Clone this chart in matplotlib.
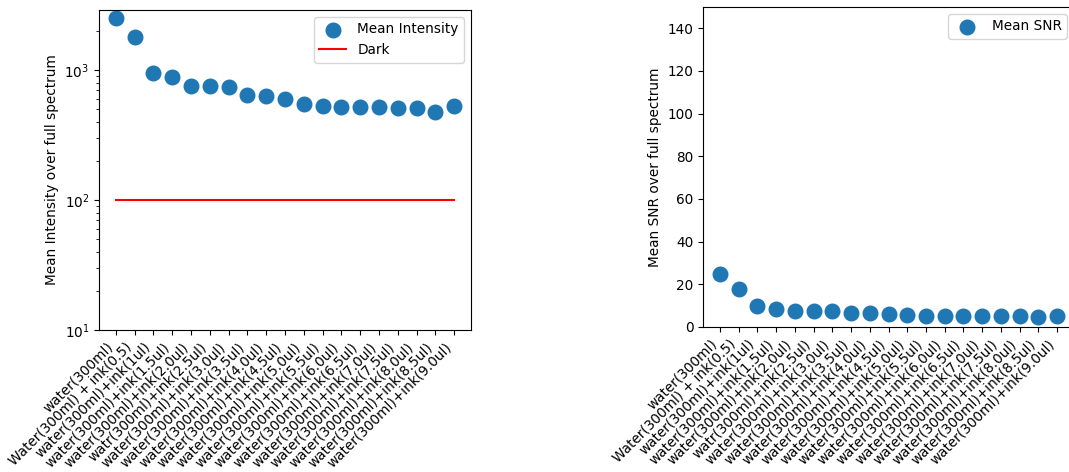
import numpy as np
import matplotlib
matplotlib.use("Agg")
import matplotlib.pyplot as plt

labels = [
    "water(300ml)",
    "Water(300ml) + ink(0.5)",
    "water(300ml)+ink(1ul)",
    "water(300ml)+ink(1.5ul)",
    "water(300ml)+ink(2.0ul)",
    "watr(300ml)+ink(2.5ul)",
    "water(300ml)+ink(3.0ul)",
    "water(300ml)+ink(3.5ul)",
    "water(300ml)+ink(4.0ul)",
    "water(300ml)+ink(4.5ul)",
    "water(300ml)+ink(5.0ul)",
    "water(300ml)+ink(5.5ul)",
    "water(300ml)+ink(6.0ul)",
    "water(300ml)+ink(6.5ul)",
    "water(300ml)+ink(7.0ul)",
    "water(300ml)+ink(7.5ul)",
    "water(300ml)+ink(8.0ul)",
    "water(300ml)+ink(8.5ul)",
    "water(300ml)+ink(9.0ul)",
]

mean_intensity = [2500, 1785, 943, 879, 753, 753, 740, 642, 631, 601,
                  548, 529, 522, 516, 516, 510, 510, 478, 529]
dark_level = 100

mean_snr = [24.7, 17.7, 9.8, 8.6, 7.5, 7.5, 7.5, 6.6, 6.6, 6.3,
            5.5, 5.0, 5.0, 5.0, 5.0, 5.0, 5.0, 4.7, 5.2]

plt.rcParams["font.size"] = 9.8

W, H = 1069, 472
fig = plt.figure(figsize=(W / 100, H / 100), dpi=100)

def px_axes(x0, y0, x1, y1):
    # pixel box (left, top, right, bottom) -> figure fraction
    return fig.add_axes([x0 / W, 1 - y1 / H, (x1 - x0) / W, (y1 - y0) / H])

x = np.arange(len(labels))

ax1 = px_axes(99, 10, 471, 330)
ax1.scatter(x, mean_intensity, s=110, color="#1f77b4", label="Mean Intensity")
ax1.plot(x, [dark_level] * len(x), color="red", label="Dark")
ax1.set_yscale("log")
ax1.set_ylim(10, 2900)
ax1.set_xticks(x)
ax1.set_xticklabels(labels, rotation=45, ha="right")
ax1.set_ylabel("Mean Intensity over full spectrum")
ax1.legend(loc="upper right")

ax2 = px_axes(703, 7, 1074, 327)
ax2.scatter(x, mean_snr, s=110, color="#1f77b4", label="Mean SNR")
ax2.set_ylim(0, 150)
ax2.set_xticks(x)
ax2.set_xticklabels(labels, rotation=45, ha="right")
ax2.set_ylabel("Mean SNR over full spectrum")
ax2.legend(loc="upper right")

fig.savefig("out.png", dpi=100)
